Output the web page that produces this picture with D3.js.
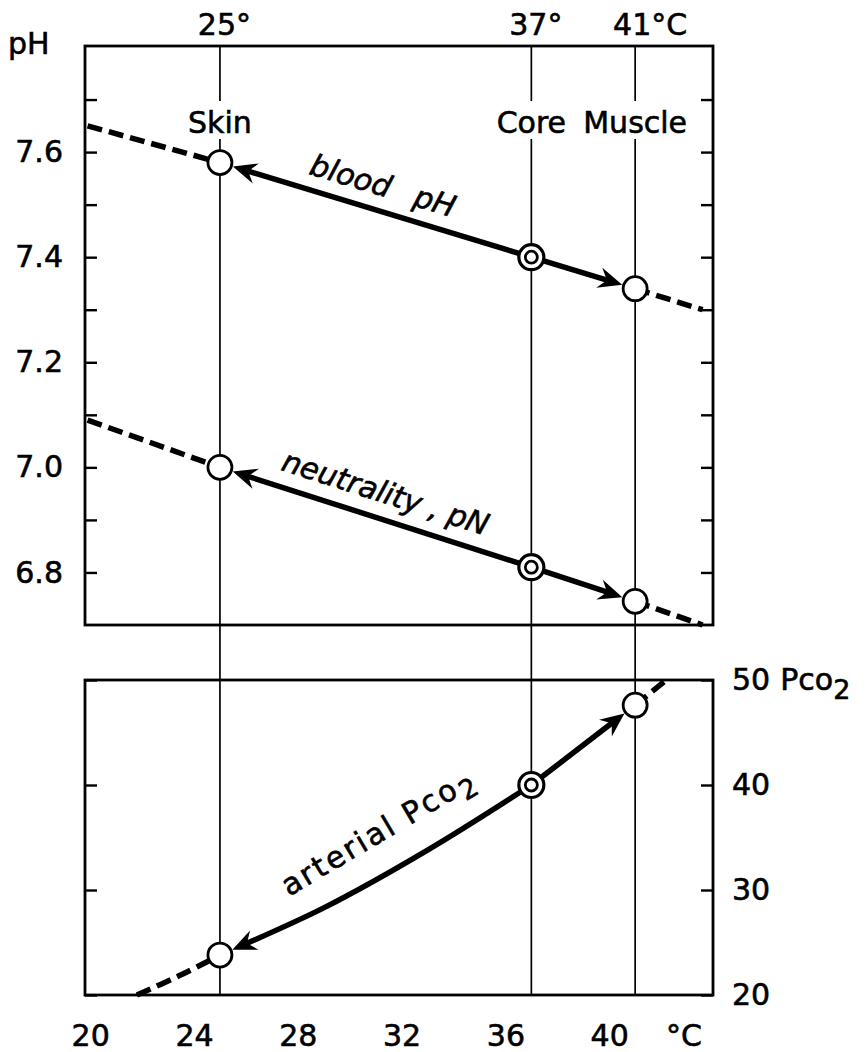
<!DOCTYPE html>
<html>
<head>
<meta charset="utf-8">
<script src="https://cdn.jsdelivr.net/npm/d3@7"></script>
<style>
  html, body { margin: 0; background: #fff; }
  svg text { font-family: "DejaVu Sans", "Liberation Sans", sans-serif; fill: #000;
             stroke: #000; stroke-width: 0.6px; }
</style>
</head>
<body>
<svg id="chart" width="865" height="1052"></svg>
<script>
// ---- Data -------------------------------------------------------------
// Body sites and their temperatures (°C)
const siteNames = ["Skin", "Core", "Muscle"];
const siteTemps = [25, 37, 41];
const siteTempUnits = ["°", "°", "°C"];

// Blood pH at each site, plus dashed extensions beyond the sites
const bloodPH = [7.58, 7.40, 7.34];
const bloodPHLeftTemps = [19.9, 25];
const bloodPHLeftValues = [7.65, 7.58];
const bloodPHRightTemps = [41, 43.6];
const bloodPHRightValues = [7.34, 7.30];

// Neutrality of water (pN) at each site, plus dashed extensions
const neutralPN = [7.00, 6.81, 6.745];
const pNLeftTemps = [19.9, 25];
const pNLeftValues = [7.09, 7.00];
const pNRightTemps = [41, 43.6];
const pNRightValues = [6.745, 6.70];

// Arterial Pco2 (mmHg) along temperature
const pco2Temps = [25, 29, 33, 37, 41];
const pco2Values = [23.8, 28.3, 33.8, 40.0, 47.6];
const pco2LeftTemps = [21.8, 23.4, 25];
const pco2LeftValues = [20.0, 21.8, 23.8];
const pco2RightTemps = [41, 42.2];
const pco2RightValues = [47.6, 50.0];

// Axis ticks
const phTicks = [6.8, 6.9, 7.0, 7.1, 7.2, 7.3, 7.4, 7.5, 7.6, 7.7];
const phTickLabels = [6.8, 7.0, 7.2, 7.4, 7.6];
const pco2Ticks = [20, 30, 40, 50];
const tempTicks = [20, 24, 28, 32, 36, 40];

// ---- Layout -----------------------------------------------------------
const svg = d3.select("#chart");
const X0 = 85, X1 = 713;
const TOP = [46, 625];
const BOT = [680, 995];

const x = d3.scaleLinear().domain([19.8, 44.0]).range([X0, X1]);
const yPH = d3.scaleLinear().domain([6.7, 7.8]).range([TOP[1], TOP[0] + 1]);
const yPC = d3.scaleLinear().domain([20, 50]).range([BOT[1], BOT[0]]);

const FS = 30;
const R = 12;

// ---- Site reference lines ---------------------------------------------
const gSites = svg.append("g");
siteTemps.forEach(t => {
  [[TOP[0], 101], [139, BOT[1]]].forEach(([a, b]) => {
    gSites.append("line")
      .attr("x1", x(t)).attr("x2", x(t))
      .attr("y1", a).attr("y2", b)
      .attr("stroke", "#000").attr("stroke-width", 1.7);
  });
});

// ---- Frames -----------------------------------------------------------
[[TOP[0], TOP[1]], [BOT[0], BOT[1]]].forEach(([a, b]) => {
  svg.append("rect")
    .attr("x", X0).attr("y", a)
    .attr("width", X1 - X0).attr("height", b - a)
    .attr("fill", "none").attr("stroke", "#000").attr("stroke-width", 2.8);
});

// ---- Axes -------------------------------------------------------------
function styleAxis(g) {
  g.attr("font-family", null).attr("font-size", null);
  g.select(".domain").remove();
  g.selectAll(".tick line").attr("stroke", "#000").attr("stroke-width", 2.4);
  g.selectAll(".tick text").attr("font-size", FS).attr("fill", "#000");
}

svg.append("g").attr("transform", `translate(${X0},0)`)
  .call(d3.axisLeft(yPH).tickValues(phTicks).tickSizeInner(-12).tickSizeOuter(0)
    .tickPadding(22)
    .tickFormat(d => phTickLabels.includes(d) ? d3.format(".1f")(d) : ""))
  .call(styleAxis);

svg.append("g").attr("transform", `translate(${X1},0)`)
  .call(d3.axisRight(yPH).tickValues(phTicks).tickSizeInner(-12).tickSizeOuter(0)
    .tickFormat(""))
  .call(styleAxis);

svg.append("g").attr("transform", `translate(${X0},0)`)
  .call(d3.axisLeft(yPC).tickValues(pco2Ticks).tickSizeInner(-12).tickSizeOuter(0)
    .tickFormat(""))
  .call(styleAxis);

const gPcRight = svg.append("g").attr("transform", `translate(${X1},0)`)
  .call(d3.axisRight(yPC).tickValues(pco2Ticks).tickSizeInner(-12).tickSizeOuter(0)
    .tickPadding(19).tickFormat(d3.format("d")))
  .call(styleAxis);

// Pco2 unit on the top tick label
gPcRight.selectAll(".tick text").filter(d => d === 50).each(function () {
  const t = d3.select(this);
  t.append("tspan").attr("dx", 10).text("Pco");
  t.append("tspan").attr("dy", 9).attr("font-size", 27).text("2");
});

svg.append("g").attr("transform", `translate(0,${BOT[1]})`)
  .call(d3.axisBottom(x).tickValues(tempTicks).tickSize(0).tickPadding(30)
    .tickFormat(d3.format("d")))
  .call(styleAxis);

svg.append("text")
  .attr("x", 684).attr("y", BOT[1] + 51)
  .attr("text-anchor", "middle").attr("font-size", FS)
  .text("°C");

// pH axis title
svg.append("text").attr("x", 8).attr("y", 54).attr("font-size", FS).text("pH");

// Temperature labels above the top frame
siteTemps.forEach((t, i) => {
  const txt = svg.append("text").attr("y", 35).attr("font-size", FS);
  const num = txt.append("tspan").text(String(t));
  const w = num.node().getComputedTextLength();
  txt.attr("x", x(t) - w / 2 - 3);
  txt.append("tspan").text(siteTempUnits[i]);
});

// Site names inside the top frame
siteNames.forEach((name, i) => {
  const txt = svg.append("text").attr("y", 133).attr("font-size", FS)
    .attr("text-anchor", "middle").text(name);
  const w = txt.node().getComputedTextLength();
  txt.attr("x", Math.min(x(siteTemps[i]), X1 - 10 - w / 2));
});

// ---- Curves -----------------------------------------------------------
const gLines = svg.append("g");
const gMarks = svg.append("g");

function pts(temps, values, yScale) {
  return temps.map((t, i) => [x(t), yScale(values[i])]);
}

const lineGen = d3.line().curve(d3.curveCatmullRom.alpha(0.5));

function dashed(points) {
  gLines.append("path")
    .attr("d", lineGen(points))
    .attr("fill", "none").attr("stroke", "#000")
    .attr("stroke-width", 5.5).attr("stroke-dasharray", "15,7");
}

// Solid arrow from the first point to the last, head touching the end circle
function arrow(points) {
  const p = gLines.append("path")
    .attr("d", lineGen(points))
    .attr("fill", "none").attr("stroke", "#000").attr("stroke-width", 5.5);
  const L = p.node().getTotalLength();
  p.attr("stroke-dasharray", `${L - R - 14},${L + 20}`);
  const tip = p.node().getPointAtLength(L - R - 1.5);
  const back = p.node().getPointAtLength(L - R - 20);
  const ang = Math.atan2(tip.y - back.y, tip.x - back.x) * 180 / Math.PI;
  gLines.append("path")
    .attr("d", "M0,0 L-24,-10.5 L-16,0 L-24,10.5 Z")
    .attr("transform", `translate(${tip.x},${tip.y}) rotate(${ang})`)
    .attr("fill", "#000");
}

// blood pH
dashed(pts(bloodPHLeftTemps, bloodPHLeftValues, yPH));
dashed(pts(bloodPHRightTemps, bloodPHRightValues, yPH));
arrow(pts([siteTemps[1], siteTemps[0]], [bloodPH[1], bloodPH[0]], yPH));
arrow(pts([siteTemps[1], siteTemps[2]], [bloodPH[1], bloodPH[2]], yPH));

// neutrality pN
dashed(pts(pNLeftTemps, pNLeftValues, yPH));
dashed(pts(pNRightTemps, pNRightValues, yPH));
arrow(pts([siteTemps[1], siteTemps[0]], [neutralPN[1], neutralPN[0]], yPH));
arrow(pts([siteTemps[1], siteTemps[2]], [neutralPN[1], neutralPN[2]], yPH));

// arterial Pco2
dashed(pts(pco2LeftTemps, pco2LeftValues, yPC));
dashed(pts(pco2RightTemps, pco2RightValues, yPC));
arrow(pts(pco2Temps.slice(0, 4).reverse(), pco2Values.slice(0, 4).reverse(), yPC));
arrow(pts(pco2Temps.slice(3), pco2Values.slice(3), yPC));

// ---- Site markers -----------------------------------------------------
function marker(cx, cy, core) {
  if (core) {
    gMarks.append("circle").attr("cx", cx).attr("cy", cy).attr("r", R + 0.5)
      .attr("fill", "#fff").attr("stroke", "#000").attr("stroke-width", 3.2);
    gMarks.append("circle").attr("cx", cx).attr("cy", cy).attr("r", 6)
      .attr("fill", "#fff").attr("stroke", "#000").attr("stroke-width", 2.8);
  } else {
    gMarks.append("circle").attr("cx", cx).attr("cy", cy).attr("r", R)
      .attr("fill", "#fff").attr("stroke", "#000").attr("stroke-width", 2.8);
  }
}

siteTemps.forEach((t, i) => {
  marker(x(t), yPH(bloodPH[i]), i === 1);
  marker(x(t), yPH(neutralPN[i]), i === 1);
  const j = pco2Temps.indexOf(t);
  marker(x(t), yPC(pco2Values[j]), i === 1);
});

// ---- Curve labels -----------------------------------------------------
// Place a label parallel to the segment between two points, lifted above it
function curveLabel(p0, p1, along, lift, extraRot, build) {
  const ang = Math.atan2(p1[1] - p0[1], p1[0] - p0[0]);
  const mx = (p0[0] + p1[0]) / 2 + Math.cos(ang) * along;
  const my = (p0[1] + p1[1]) / 2 + Math.sin(ang) * along;
  const g = svg.append("g")
    .attr("transform", `translate(${mx},${my}) rotate(${ang * 180 / Math.PI + extraRot})`);
  const t = g.append("text").attr("y", -lift).attr("text-anchor", "middle");
  build(t);
}

curveLabel([x(siteTemps[0]), yPH(bloodPH[0])], [x(siteTemps[1]), yPH(bloodPH[1])], 0, 15, 0, t => {
  t.attr("font-size", 30).attr("font-style", "italic").attr("word-spacing", 16)
    .text("blood pH");
});

curveLabel([x(siteTemps[0]), yPH(neutralPN[0])], [x(siteTemps[1]), yPH(neutralPN[1])], 2, 16, 0, t => {
  t.attr("font-size", 30).attr("font-style", "italic")
    .text("neutrality , pN");
});

curveLabel([x(pco2Temps[0]), yPC(pco2Values[0])], [x(pco2Temps[3]), yPC(pco2Values[3])], 22, 22, -2, t => {
  t.attr("font-size", 30).attr("letter-spacing", 2.5);
  t.append("tspan").text("arterial  Pco");
  t.append("tspan").attr("dy", 8).attr("font-size", 27).text("2");
});
</script>
</body>
</html>
